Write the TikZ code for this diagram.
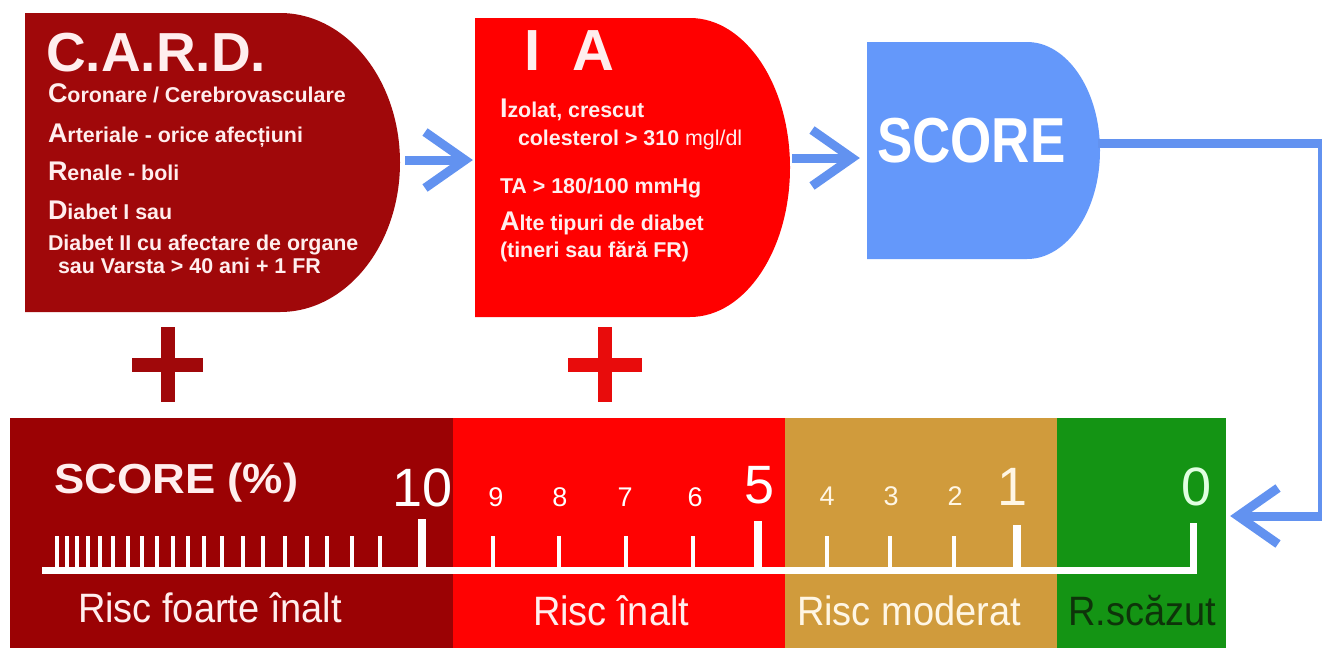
\documentclass[tikz,border=0pt]{standalone}
\usepackage{fontspec}
\usepackage{graphicx}
\setmainfont{Liberation Sans}
\usetikzlibrary{calc}
\definecolor{cardred}{RGB}{160,8,10}
\definecolor{iared}{RGB}{255,0,0}
\definecolor{plusred}{RGB}{232,12,12}
\definecolor{scoreblue}{RGB}{100,152,250}
\definecolor{arrowblue}{RGB}{98,146,240}
\definecolor{bardark}{RGB}{155,2,4}
\definecolor{barred}{RGB}{255,2,2}
\definecolor{bartan}{RGB}{208,155,60}
\definecolor{bargreen}{RGB}{20,148,20}
\definecolor{softwhite}{RGB}{255,238,238}
\definecolor{cream}{RGB}{255,246,228}
\definecolor{mint}{RGB}{225,255,225}
\definecolor{darkgreen}{RGB}{14,52,10}
\newcommand\bigini[1]{{\fontsize{27}{27}\selectfont #1}}
\begin{document}
\begin{tikzpicture}[x=1pt,y=-1pt,
  txt/.style={inner sep=0pt, outer sep=0pt, anchor=base west},
  cardtxt/.style={txt, text=softwhite, font=\fontsize{21.4}{24}\selectfont\bfseries},
  bignum/.style={inner sep=0pt, outer sep=0pt, anchor=base, font=\fontsize{54}{54}\selectfont},
  smallnum/.style={inner sep=0pt, outer sep=0pt, anchor=base, font=\fontsize{27}{27}\selectfont},
  risk/.style={txt, font=\fontsize{38}{38}\selectfont},
  flow/.style={draw=arrowblue, line width=9pt, line join=miter},
  ruler/.style={draw=white, line width=7pt, line join=miter},
  majortick/.style={draw=white, line width=8pt},
  minortick/.style={draw=white, line width=4pt},
  plusbar/.style={line width=14pt}]
\useasboundingbox (0,0) rectangle (1322,648);
\fill[white] (0,0) rectangle (1322,648);

% ---- D shapes ----
\fill[cardred] (25,13) -- (280,13)
  .. controls (346.3,13) and (400,79.9) .. (400,162.5)
  .. controls (400,245.1) and (346.3,312) .. (280,312)
  -- (25,312) -- cycle;
\fill[iared] (475,18) -- (690,18)
  .. controls (745.2,18) and (790,84.9) .. (790,167.5)
  .. controls (790,250.1) and (745.2,317) .. (690,317)
  -- (475,317) -- cycle;
\fill[scoreblue] (867,42) -- (1027,42)
  .. controls (1067.3,42) and (1100,90.6) .. (1100,150.5)
  .. controls (1100,210.4) and (1067.3,259) .. (1027,259)
  -- (867,259) -- cycle;

% ---- connector end points ----
\coordinate (card-e) at (405,160);
\coordinate (ia-w) at (465,160);
\coordinate (ia-e) at (792,158);
\coordinate (score-w) at (852,158);
\coordinate (score-e) at (1098,143.5);
\coordinate (bend-top) at (1322,143.5);
\coordinate (bend-bot) at (1322,516);
\coordinate (green-e) at (1238,516);

% ---- arrows ----
\draw[flow] (card-e) -- (ia-w);
\draw[flow] ($(ia-w)+(-40,-28)$) -- (ia-w) -- ($(ia-w)+(-40,28)$);
\draw[flow] (ia-e) -- (score-w);
\draw[flow] ($(score-w)+(-40,-28)$) -- (score-w) -- ($(score-w)+(-40,28)$);
\draw[flow] (score-e) -- (bend-top) -- (bend-bot) -- (green-e);
\draw[flow] ($(green-e)+(40,-28)$) -- (green-e) -- ($(green-e)+(40,28)$);

% ---- CARD text ----
\node[txt, text depth=0pt, text=softwhite, font=\fontsize{55}{55}\selectfont\bfseries] (cardtitle) at (46,71) {C.A.R.D.};
\node[cardtxt, text height=18pt] (card1) at (48,102) {\bigini{C}oronare / Cerebrovasculare};
\node[cardtxt] (card2) at (48,142) {\bigini{A}rteriale - orice afecțiuni};
\node[cardtxt] (card3) at (48,180) {\bigini{R}enale - boli};
\node[cardtxt] (card4) at (48,219) {\bigini{D}iabet I sau};
\node[cardtxt] (card5) at (48,250) {Diabet II cu afectare de organe};
\node[cardtxt] (card6) at (58,273) {sau Varsta > 40 ani + 1 FR};

% ---- IA text ----
\node[txt, text depth=0pt, text=softwhite, font=\fontsize{58}{58}\selectfont\bfseries] (iatitle) at (524,70) {I\hspace{32pt}A};
\node[cardtxt] (ia1) at (500,117) {\bigini{I}zolat, crescut};
\node[cardtxt] (ia2) at (518,145) {colesterol > 310 {\mdseries mgl/dl}};
\node[cardtxt] (ia3) at (500,193) {TA > 180/100 mmHg};
\node[cardtxt] (ia4) at (500,230) {\bigini{A}lte tipuri de diabet};
\node[cardtxt] (ia5) at (500,257) {(tineri sau fără FR)};

% ---- SCORE text ----
\node[txt, text=white, font=\fontsize{53}{53}\selectfont\bfseries] (scoretitle) at (877,162) {\scalebox{1}[1.2]{SCORE}};

% ---- plus signs ----
\draw[plusbar, draw=cardred] (132,364.5) -- (203,364.5);
\draw[plusbar, draw=cardred] (167.5,327) -- (167.5,402);
\draw[plusbar, draw=plusred] (568,364.5) -- (642,364.5);
\draw[plusbar, draw=plusred] (605,327) -- (605,402);

% ---- bottom bar ----
\fill[bardark] (10,418) rectangle (453,648);
\fill[barred] (453,418) rectangle (785,648);
\fill[bartan] (785,418) rectangle (1057,648);
\fill[bargreen] (1057,418) rectangle (1226,648);

% ---- ruler ----
\draw[ruler] (42,570) -- (1193,570) -- (1193,523);
\foreach \tx in {56.7,66.7,77.3,87.7,100,112.7,127.7,141.7,156.7,173.3,187.7,204,221.7,242.7,262.7,285,306.7,326.7,351.7,380,493,559,626,693,827,890,954}
  \draw[minortick] (\tx,536) -- (\tx,568);
\draw[majortick] (422,519) -- (422,568);
\draw[majortick] (758,521) -- (758,568);
\draw[majortick] (1017,525) -- (1017,568);

% ---- scale labels ----
\node[txt, text=softwhite, font=\fontsize{42}{42}\selectfont\bfseries] (scorepct) at (54,493) {\scalebox{1.08}[1]{SCORE (\%)}};
\node[bignum, text=white] (n10) at (423,506) {10};
\node[smallnum, text=white] (n9) at (496,506) {9};
\node[smallnum, text=white] (n8) at (560,506) {8};
\node[smallnum, text=white] (n7) at (625,506) {7};
\node[smallnum, text=white] (n6) at (695,506) {6};
\node[bignum, text=white] (n5) at (760,503) {5};
\node[smallnum, text=cream] (n4) at (827,505) {4};
\node[smallnum, text=cream] (n3) at (891,505) {3};
\node[smallnum, text=cream] (n2) at (955,505) {2};
\node[bignum, text=cream] (n1) at (1013,505) {1};
\node[bignum, text=mint] (n0) at (1196,505) {0};

% ---- risk labels ----
\node[risk, text=softwhite] (r1) at (78,622) {\scalebox{1}[1.08]{Risc foarte înalt}};
\node[risk, text=softwhite] (r2) at (533,625) {\scalebox{1}[1.08]{Risc înalt}};
\node[risk, text=cream] (r3) at (797,625) {\scalebox{1}[1.08]{Risc moderat}};
\node[risk, text=darkgreen] (r4) at (1068,625) {\scalebox{1}[1.08]{R.scăzut}};
\end{tikzpicture}
\end{document}
